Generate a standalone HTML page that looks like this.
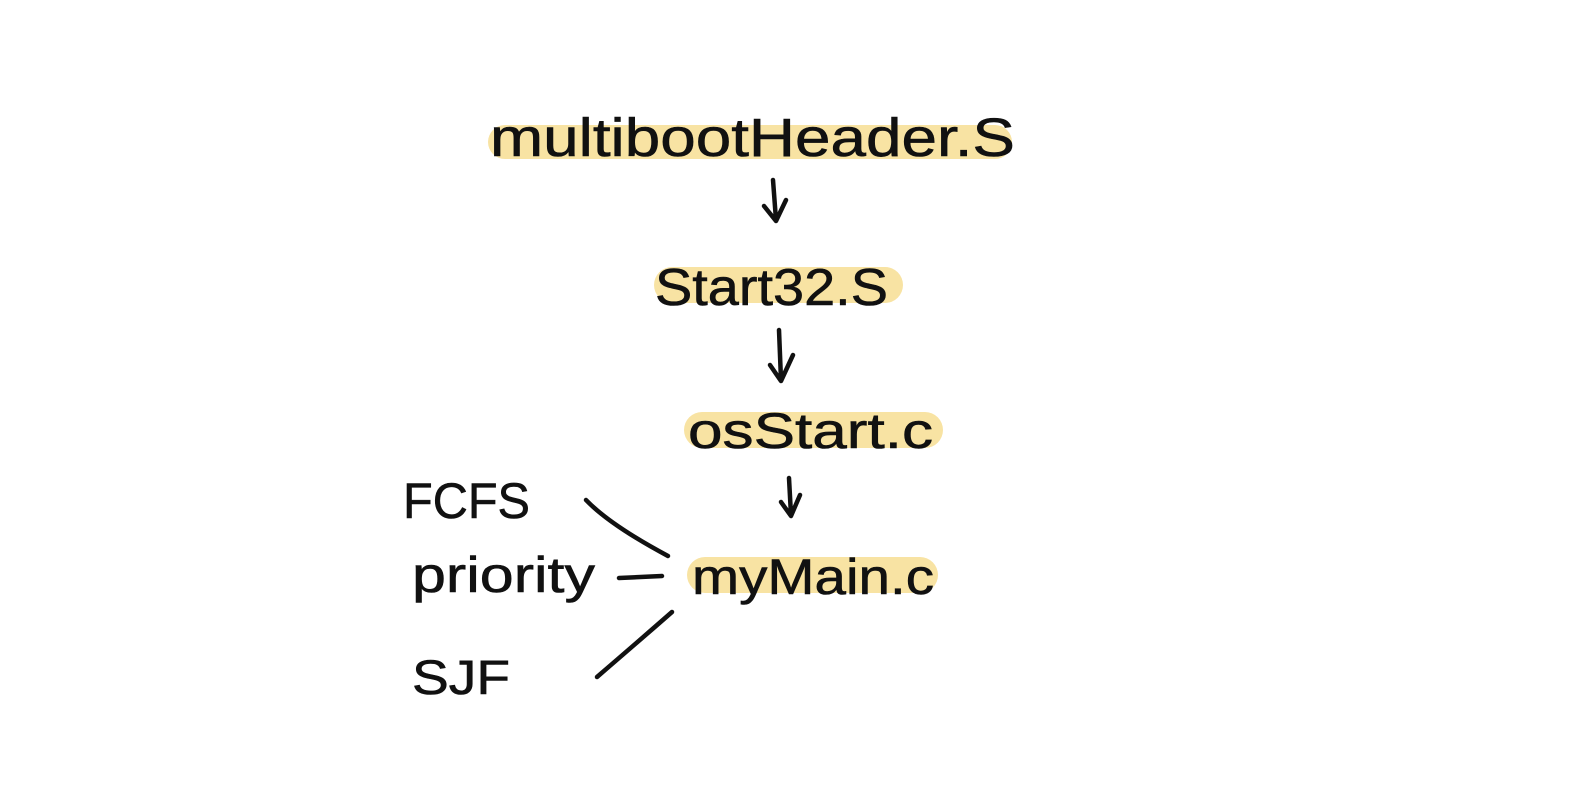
<!DOCTYPE html>
<html><head><style>html,body{margin:0;padding:0;background:#fff;}</style></head>
<body>
<svg width="1581" height="806" viewBox="0 0 1581 806" xmlns="http://www.w3.org/2000/svg">
<g stroke="#f8e3a3" stroke-linecap="round" fill="none">
<line x1="505" y1="142" x2="995" y2="142" stroke-width="34"/>
<line x1="672" y1="285" x2="885" y2="285" stroke-width="36"/>
<line x1="702" y1="430" x2="925" y2="430" stroke-width="36"/>
<line x1="705" y1="575" x2="920" y2="575" stroke-width="36"/>
</g>
<g font-family="Liberation Sans, sans-serif" fill="#111" stroke="#111" stroke-width="0.6">
<text x="490" y="156" font-size="54" textLength="525" lengthAdjust="spacingAndGlyphs">multibootHeader.S</text>
<text x="655" y="305" font-size="52" textLength="233" lengthAdjust="spacingAndGlyphs">Start32.S</text>
<text x="688" y="448" font-size="50" textLength="245" lengthAdjust="spacingAndGlyphs">osStart.c</text>
<text x="692" y="594" font-size="50" textLength="242" lengthAdjust="spacingAndGlyphs">myMain.c</text>
<text x="403" y="518" font-size="50" textLength="127" lengthAdjust="spacingAndGlyphs">FCFS</text>
<text x="412" y="592" font-size="50" textLength="183" lengthAdjust="spacingAndGlyphs">priority</text>
<text x="412" y="694" font-size="48" textLength="98" lengthAdjust="spacingAndGlyphs">SJF</text>
</g>
<g stroke="#111" stroke-width="4.5" fill="none" stroke-linecap="round" stroke-linejoin="round">
<path d="M773 180 L776 220 M764 206 L776 221 L786 200"/>
<path d="M779 330 L781 380 M770 365 L781 381 L793 355"/>
<path d="M789 478 L791 515 M781 502 L791 516 L800 495"/>
<path d="M586 500 Q610 525 668 556"/>
<path d="M619 578 L662 576"/>
<path d="M672 612 Q640 640 597 677"/>
</g>
</svg>
</body></html>
